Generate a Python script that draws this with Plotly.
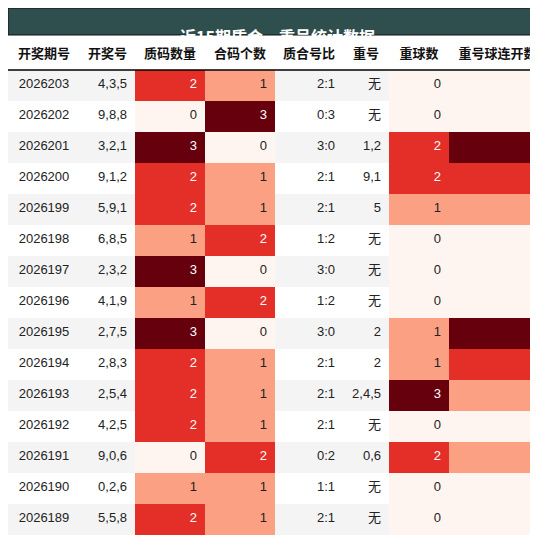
import plotly.graph_objects as go

periods = ['2026203', '2026202', '2026201', '2026200', '2026199', '2026198', '2026197', '2026196',
           '2026195', '2026194', '2026193', '2026192', '2026191', '2026190', '2026189']
draws = ['4,3,5', '9,8,8', '3,2,1', '9,1,2', '5,9,1', '6,8,5', '2,3,2', '4,1,9',
         '2,7,5', '2,8,3', '2,5,4', '4,2,5', '9,0,6', '0,2,6', '5,5,8']
prime_cnt = [2, 0, 3, 2, 2, 1, 3, 1, 3, 2, 2, 2, 0, 1, 2]
comp_cnt = [1, 3, 0, 1, 1, 2, 0, 2, 0, 1, 1, 1, 2, 1, 1]
ratio = ['2:1', '0:3', '3:0', '2:1', '2:1', '1:2', '3:0', '1:2', '3:0', '2:1', '2:1', '2:1', '0:2', '1:1', '2:1']
repeat = ['无', '无', '1,2', '9,1', '5', '无', '无', '无', '2', '2', '2,4,5', '无', '0,6', '无', '无']
repeat_cnt = [0, 0, 2, 2, 1, 0, 0, 0, 1, 1, 3, 0, 2, 0, 0]
streak = [0, 0, 3, 2, 1, 0, 0, 0, 3, 2, 1, 0, 1, 0, 0]
headers = ['开奖期号', '开奖号', '质码数量', '合码个数', '质合号比', '重号', '重球数', '重号球连开数']

reds = {0: '#fff5f0', 1: '#fca083', 2: '#e32f27', 3: '#67000d'}
txt = {0: '#222', 1: '#222', 2: 'white', 3: 'white'}
row_bg = ['#f4f4f4' if i % 2 == 0 else 'white' for i in range(len(periods))]

def heat(vals):
    return [reds[v] for v in vals]

def tcol(vals):
    return [txt[v] for v in vals]

fills = [row_bg, row_bg, heat(prime_cnt), heat(comp_cnt), row_bg, row_bg, heat(repeat_cnt), heat(streak)]
fcols = ['#222', '#222', tcol(prime_cnt), tcol(comp_cnt), '#222', '#222', tcol(repeat_cnt), tcol(streak)]

top = 519 / 546
fig = go.Figure(go.Table(
    columnwidth=[72, 55, 70, 70, 68, 46, 60, 97],
    domain=dict(x=[0, 1], y=[0, top]),
    header=dict(values=[f'<b>{h}</b>' for h in headers], height=34, align='center',
                fill_color='white', line=dict(color='white', width=0),
                font=dict(family='Noto Sans CJK SC', size=13, color='#111')),
    cells=dict(values=[periods, draws, prime_cnt, comp_cnt, ratio, repeat, repeat_cnt, streak],
               height=31, align=['center', 'right', 'right', 'right', 'right', 'right', 'right', 'right'],
               fill_color=fills, line=dict(color=fills, width=0),
               font=dict(family='Liberation Sans, Noto Sans CJK SC', size=13, color=fcols)),
))

fig.add_shape(type='rect', xref='paper', yref='paper', x0=0, x1=1, y0=top, y1=1,
              fillcolor='#2f4f4f', line=dict(color='#111', width=1))
fig.add_shape(type='line', xref='paper', yref='paper', x0=0, x1=1, y0=(519 - 35) / 546, y1=(519 - 35) / 546,
              line=dict(color='black', width=1.5))
fig.add_annotation(text='<b>近15期质合，重号统计数据</b>', xref='paper', yref='paper', x=0.5,
                   y=(519 + 27 / 2) / 546, showarrow=False,
                   font=dict(family='Noto Sans CJK SC', size=16, color='white'))

fig.update_layout(width=538, height=546, margin=dict(l=0, r=0, t=0, b=0),
                  paper_bgcolor='white')
fig.write_html('out.html')
